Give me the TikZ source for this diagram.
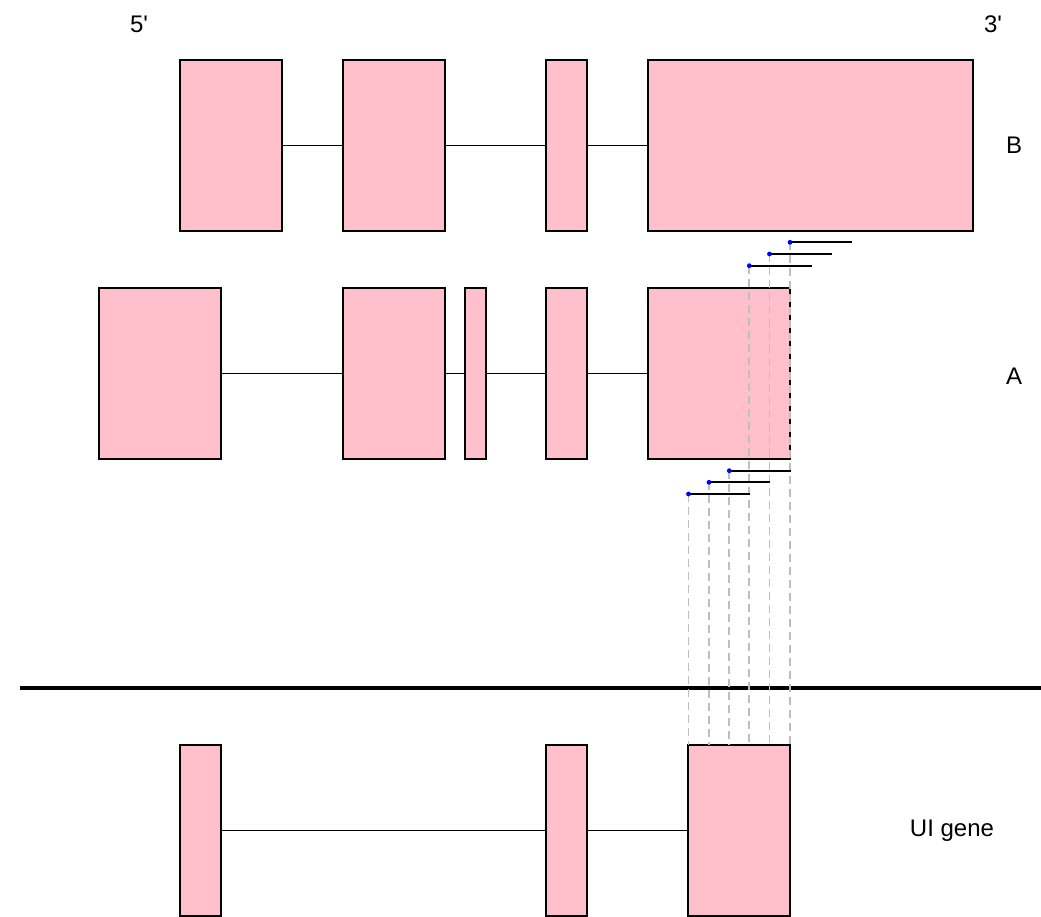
\documentclass[tikz,border=0pt]{standalone}
\usepackage{fontspec}
\setmainfont{Liberation Sans}[Ligatures=TeXOff]
\usetikzlibrary{fit}
\definecolor{exonpink}{RGB}{255,192,203}
\definecolor{guidegray}{RGB}{190,190,190}
\tikzset{
  exon/.style={draw=black, fill=exonpink, line width=1.4pt, inner sep=0pt, outer sep=0pt},
  intron/.style={draw=black, line width=1.5pt},
  readline/.style={draw=black, line width=1.7pt},
  guide/.style={draw=guidegray, line width=1.7pt, dash pattern=on 8pt off 5pt},
  readdot/.style={fill=blue},
  lab/.style={font=\fontsize{24}{28}\selectfont, anchor=base, inner sep=0pt}
}
\begin{document}
\begin{tikzpicture}[x=1pt, y=-1pt]
\useasboundingbox (0,0) rectangle (1041,917);
% labels
\node[lab] (l5) at (139,33) {5'};
\node[lab] (l3) at (993,33) {3'};
\node[lab] (lB) at (1014,154) {B};
\node[lab] (lA) at (1014,384) {A};
\node[lab] (lU) at (952,836) {UI gene};
% B isoform
\node[exon, fit={(180,60) (282,231)}] (b1) {};
\node[exon, fit={(343,60) (445,231)}] (b2) {};
\node[exon, fit={(546,60) (587,231)}] (b3) {};
\node[exon, fit={(648,60) (973,231)}] (b4) {};
\draw[intron] (b1.east) -- (b2.west);
\draw[intron] (b2.east) -- (b3.west);
\draw[intron] (b3.east) -- (b4.west);
% A isoform
\node[exon, fit={(99,288) (221,459)}] (a1) {};
\node[exon, fit={(343,288) (445,459)}] (a2) {};
\node[exon, fit={(465,288) (486,459)}] (a3) {};
\node[exon, fit={(546,288) (587,459)}] (a4) {};
\node[exon, fit={(648,288) (790,459)}] (a5) {};
\draw[intron] (a1.east) -- (a2.west);
\draw[intron] (a2.east) -- (a3.west);
\draw[intron] (a3.east) -- (a4.west);
\draw[intron] (a4.east) -- (a5.west);
% separator
\coordinate (sepL) at (20,688);
\coordinate (sepR) at (1041,688);
\draw[line width=4.5pt] (sepL) -- (sepR);
% UI gene
\node[exon, fit={(180,745) (221,916)}] (u1) {};
\node[exon, fit={(546,745) (587,916)}] (u2) {};
\node[exon, fit={(688,745) (790,916)}] (u3) {};
\draw[intron] (u1.east) -- (u2.west);
\draw[intron] (u2.east) -- (u3.west);
% reads near B
\coordinate (rb1s) at (790,242.3);   \coordinate (rb1e) at (851.7,242.3);
\coordinate (rb2s) at (769.5,254);   \coordinate (rb2e) at (831.5,254);
\coordinate (rb3s) at (749.3,265.7); \coordinate (rb3e) at (811.5,265.7);
% reads near A
\coordinate (ra1s) at (729.3,470.7); \coordinate (ra1e) at (790.5,470.7);
\coordinate (ra2s) at (709,482.3);   \coordinate (ra2e) at (770,482.3);
\coordinate (ra3s) at (688.5,494);   \coordinate (ra3e) at (750,494);
% guide lines
\foreach \r in {rb1s,rb2s,rb3s,ra1s,ra2s,ra3s}{
  \draw[guide] (\r) -- (\r |- u3.north);
}
% read bars
\foreach \r in {rb1,rb2,rb3,ra1,ra2,ra3}{
  \draw[readline] (\r s) -- (\r e);
  \fill[readdot] (\r s) circle (2.4pt);
}
\end{tikzpicture}
\end{document}
